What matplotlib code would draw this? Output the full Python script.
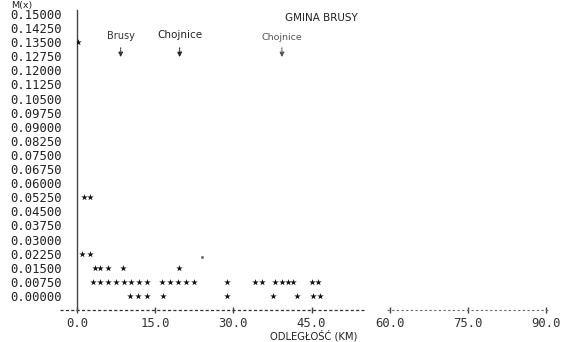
import matplotlib
matplotlib.use("Agg")
import matplotlib.pyplot as plt
import numpy as np

# ---- data (distance in km, M(x)) ----
row_0135_x = [0.3]
row_0135_y = [0.135]
row_0525_x = [1.3, 2.5]
row_0525_y = [0.0525, 0.0525]
row_0225_x = [1.0, 2.5]
row_0225_y = [0.0225, 0.0225]
row_015_x = [3.4, 4.4, 5.9, 8.8, 19.5]
row_015_y = [0.015] * 5
row_0075_x = [3.1, 4.4, 5.9, 7.5, 9.0, 10.3, 11.9, 13.4, 16.3, 17.8, 19.3, 20.9, 22.4,
              28.7, 34.1, 35.4, 37.9, 39.3, 40.4, 41.4, 45.0, 46.2]
row_0075_y = [0.0075] * len(row_0075_x)
row_0_x = [10.2, 11.7, 13.4, 16.5, 28.7, 37.5, 42.1, 45.2, 46.6]
row_0_y = [0.0] * len(row_0_x)
faint_x = [23.9]
faint_y = [0.0205]

xs = row_0135_x + row_0525_x + row_0225_x + row_015_x + row_0075_x + row_0_x
ys = row_0135_y + row_0525_y + row_0225_y + row_015_y + row_0075_y + row_0_y

yticks = [0.0075 * i for i in range(21)]
ytick_labels = ["%.5f" % v for v in yticks]
xticks = [0.0, 15.0, 30.0, 45.0, 60.0, 75.0, 90.0]
xtick_labels = ["%.1f" % v for v in xticks]

towns = ["Brusy", "Chojnice", "Chojnice"]
town_x = [8.4, 19.7, 39.3]

fig = plt.figure(figsize=(5.65, 3.42), dpi=100)
ax = fig.add_axes([0.136, 0.0936, 0.846, 0.877])
xmin, xmax = 0.0, 91.6
ymin, ymax = -0.00745, 0.1521
ax.set_xlim(xmin, xmax)
ax.set_ylim(ymin, ymax)

ink = "#222222"
ax.scatter(xs, ys, marker="*", s=24, color="#111111", linewidths=0, zorder=3)
ax.scatter(faint_x, faint_y, marker=".", s=6, color="#777777", zorder=3)

for s in ["top", "right", "bottom"]:
    ax.spines[s].set_visible(False)
ax.spines["left"].set_color("#444444")
ax.spines["left"].set_linewidth(1.0)

# dashed baseline (printer style), with a gap near 57 km
ax.plot([-3.3, 55.0], [ymin, ymin], ls=(0, (2.5, 1.8)), color="#333333", lw=0.9,
        clip_on=False, zorder=2)
ax.plot([59.5, 90.5], [ymin, ymin], ls=(0, (2.0, 2.2)), color="#666666", lw=0.8,
        clip_on=False, zorder=2)

mono = "DejaVu Sans Mono"
ax.set_yticks(yticks)
ax.set_yticklabels(ytick_labels, family=mono, fontsize=8.8, color=ink)
ax.tick_params(axis="y", length=0, pad=11)
ax.set_xticks(xticks)
ax.set_xticklabels(xtick_labels, family=mono, fontsize=8.8, color="#333333")
ax.tick_params(axis="x", direction="inout", length=4, width=1.0, color="#444444", pad=3)

ax.set_xlabel("ODLEGŁOŚĆ (KM)", fontsize=7.2, color=ink, labelpad=0, x=0.495)
fig.text(0.039, 0.983, "M(x)", fontsize=6.8, color=ink, ha="center", va="center")
ax.text(46.9, 0.1479, "GMINA BRUSY", fontsize=7.5, color=ink, ha="center", va="center")

label_y = [0.1383, 0.1390, 0.1377]
label_size = [7.0, 7.5, 6.8]
label_col = ["#333333", "#222222", "#555555"]
for name, tx, ly, fs, c in zip(towns, town_x, label_y, label_size, label_col):
    ax.text(tx, ly, name, ha="center", va="center", fontsize=fs, color=c)
    ax.annotate("", xy=(tx, 0.1255), xytext=(tx, 0.1335),
                arrowprops=dict(arrowstyle="-|>", color=c, lw=0.8, ls=(0, (1, 1)),
                                mutation_scale=7))

fig.savefig("out.png", dpi=100, facecolor="white")
